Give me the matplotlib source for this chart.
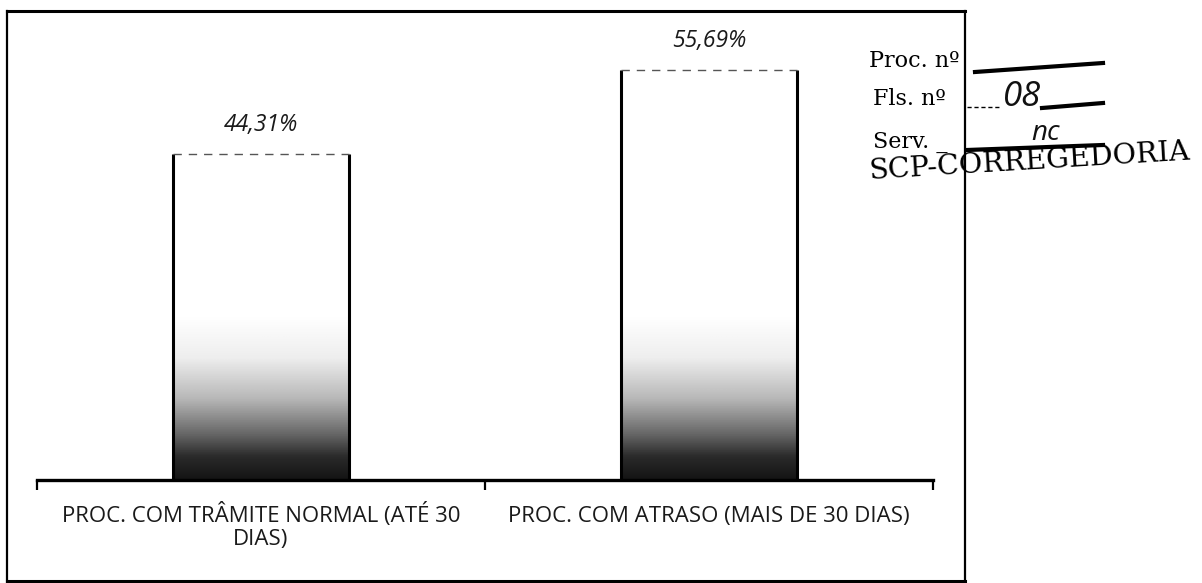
import matplotlib.pyplot as plt
import numpy as np
from matplotlib.colors import LinearSegmentedColormap
from matplotlib.lines import Line2D

categories = ['PROC. COM TRÂMITE NORMAL (ATÉ 30\nDIAS)', 'PROC. COM ATRASO (MAIS DE 30 DIAS)']
values = [44.31, 55.69]
value_labels = ['44,31%', '55,69%']

sans = ['Open Sans', 'DejaVu Sans']
serif = ['DejaVu Serif']

W, H = 1202, 583
fig = plt.figure(figsize=(W / 100, H / 100), dpi=100)
fig.patch.set_facecolor('white')

# plot area in pixels: x 37..933, baseline at y=480, top at y=30
ax = fig.add_axes([37 / W, (H - 480) / H, 896 / W, 450 / H])
ymax = 61.1

# scanned look: dark at the bottom of the bars, white further up
cmap = LinearSegmentedColormap.from_list('scan', [
    (0.0, '#141414'), (0.05, '#2a2a2a'), (0.10, '#666666'),
    (0.18, '#b8b8b8'), (0.27, '#eeeeee'), (0.36, '#ffffff'), (1.0, '#ffffff')])
grad = np.linspace(0, 1, 512).reshape(-1, 1)

bars = ax.bar(range(len(values)), values, width=0.393, color='none',
              edgecolor='none', zorder=3)
for rect in bars:
    x0, w, h = rect.get_x(), rect.get_width(), rect.get_height()
    im = ax.imshow(grad, cmap=cmap, origin='lower', aspect='auto',
                   extent=(x0, x0 + w, 0, ymax), zorder=2, interpolation='bilinear')
    im.set_clip_path(rect)
    ax.vlines([x0, x0 + w], 0, h, colors='black', linewidth=2.2, zorder=4)
    ax.hlines(h, x0, x0 + w, colors='#555555', linewidth=1.0,
              linestyles=(0, (6, 5)), zorder=4)

for i, (v, lab) in enumerate(zip(values, value_labels)):
    ax.text(i, v + 3.85, lab, ha='center', va='center', fontsize=16.5,
            style='italic', family=sans, color='#1a1a1a')

ax.set_xlim(-0.5, 1.5)
ax.set_ylim(0, ymax)
for s in ['top', 'right', 'left']:
    ax.spines[s].set_visible(False)
ax.spines['bottom'].set_linewidth(2.4)
ax.set_yticks([])
ax.set_xticks([-0.5, 0.5, 1.5])
ax.set_xticklabels([])
ax.tick_params(axis='x', which='major', direction='out', length=7, width=1.6)

# category labels, one text per wrapped line so the baselines line up
line_y = [-0.0933, -0.1444]
for i, cat in enumerate(categories):
    for j, line in enumerate(cat.split('\n')):
        ax.text(i, line_y[j], line, transform=ax.get_xaxis_transform(),
                ha='center', va='baseline', fontsize=16, family=sans,
                color='#1a1a1a')

# outer frame of the scanned chart
def fl(x0, y0, x1, y1, lw=1.5, **kw):
    fig.add_artist(Line2D([x0 / W, x1 / W], [1 - y0 / H, 1 - y1 / H],
                          color='black', linewidth=lw, **kw))

fl(7, 11, 965, 11, 2.2)
fl(7, 11, 7, 582, 1.6)
fl(7, 581, 965, 581, 2.2)
fl(965, 11, 965, 582, 1.6)

# protocol stamp
fig.text(869 / W, 1 - 67 / H, 'Proc. nº', fontsize=16, family=serif, va='baseline')
fig.text(873 / W, 1 - 105 / H, 'Fls. nº', fontsize=16, family=serif, va='baseline')
fig.text(873 / W, 1 - 148 / H, 'Serv. _', fontsize=16, family=serif, va='baseline')
fig.text(1030 / W, 1 - 162 / H, 'SCP-CORREGEDORIA', fontsize=20.5, family=serif,
         ha='center', va='center', rotation=3.5, rotation_mode='anchor')
fl(975, 72, 1103, 63, 3.0)
fl(967, 107, 1001, 107, 1.0, linestyle=(0, (3, 2)))
fl(1042, 108, 1103, 103, 3.0)
fl(967, 150, 1103, 145, 3.0)
fig.text(1022 / W, 1 - 106 / H, '08', fontsize=25, family=sans, style='italic',
         ha='center', va='baseline', color='#111111')
fig.text(1046 / W, 1 - 140 / H, 'nc', fontsize=20, family=sans, style='italic',
         ha='center', va='baseline', color='#111111')

fig.savefig('out.png', dpi=100, facecolor='white')
